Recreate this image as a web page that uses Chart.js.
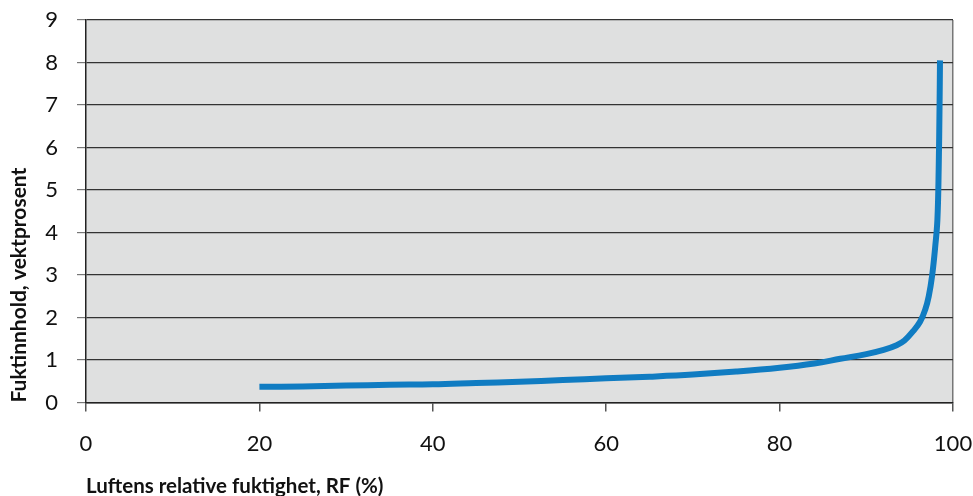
<!DOCTYPE html>
<html><head><meta charset="utf-8">
<script src="https://cdn.jsdelivr.net/npm/chart.js@4"></script>
<style>html,body{margin:0;padding:0;background:#fff}#wrap{width:973px;height:496px}</style>
</head><body><div id="wrap"><canvas id="c" width="973" height="496" style="width:973px;height:496px"></canvas></div>
<script>
const humidity = [20, 25, 30, 35, 40, 45, 50, 55, 60, 65, 70, 75, 80, 84, 87, 90, 92, 93.5, 94.4, 95.4, 96.2, 96.8, 97.2, 97.6, 97.95, 98.2, 98.35, 98.45, 98.5];
const moisture = [0.37, 0.38, 0.40, 0.42, 0.43, 0.46, 0.49, 0.53, 0.57, 0.61, 0.66, 0.73, 0.82, 0.92, 1.03, 1.14, 1.24, 1.35, 1.46, 1.68, 1.90, 2.19, 2.5, 3.0, 3.67, 4.3, 5.5, 7.0, 8.05];
const xRange = [0, 100];
const xStep = 20;
const yRange = [0, 9];
const yStep = 1;
const xTitle = 'Luftens relative fuktighet, RF (%)';
const yTitle = 'Fuktinnhold, vektprosent';

const bgPlugin = {
  id: 'plotBg',
  beforeDraw(chart) {
    const {ctx, chartArea: {left, top, right, bottom}} = chart;
    ctx.save();
    ctx.fillStyle = '#dfe0e0';
    ctx.fillRect(left, top, right - left, bottom - top);
    ctx.restore();
  }
};

const points = humidity.map((x, i) => ({x: x, y: moisture[i]}));

new Chart(document.getElementById('c'), {
  type: 'line',
  data: {
    datasets: [{
      data: points,
      borderColor: 'rgb(16,124,194)',
      borderWidth: 6,
      pointRadius: 0,
      tension: 0.4,
      fill: false,
      borderCapStyle: 'butt',
      borderJoinStyle: 'round'
    }]
  },
  options: {
    responsive: false,
    animation: false,
    devicePixelRatio: 1,
    layout: {padding: {left: 0, right: 0, top: 0, bottom: 0}},
    plugins: {legend: {display: false}, tooltip: {enabled: false}},
    scales: {
      x: {
        type: 'linear',
        min: xRange[0], max: xRange[1],
        afterFit: s => { s.height = 93.4; s.paddingLeft = 0; s.paddingRight = 20; },
        ticks: {stepSize: xStep, padding: 19.5, color: '#111', font: {family: 'Lato', size: 22}},
        grid: {
          drawOnChartArea: true,
          color: c => (c.tick && c.tick.value === xRange[1]) ? '#777' : 'rgba(0,0,0,0)',
          tickColor: '#555', tickLength: 9, lineWidth: 1.5
        },
        border: {color: '#222', width: 1.5},
        title: {display: true, text: xTitle, align: 'start', color: '#111',
          font: {family: 'Lato', size: 20.5, weight: 'bold'}, padding: {top: 0, bottom: -3}}
      },
      y: {
        min: yRange[0], max: yRange[1],
        afterFit: s => { s.width = 86; s.paddingTop = 20; s.paddingBottom = 0; },
        ticks: {stepSize: yStep, padding: 19, color: '#111', font: {family: 'Lato', size: 22}},
        grid: {color: '#333', tickColor: '#777', tickLength: 9, lineWidth: 1.2},
        border: {color: '#222', width: 1.5},
        title: {display: true, text: yTitle, align: 'start', color: '#111',
          font: {family: 'Lato', size: 21, weight: 'bold'}, padding: {top: 7, bottom: 0}}
      }
    }
  },
  plugins: [bgPlugin]
});
</script>
</body></html>
